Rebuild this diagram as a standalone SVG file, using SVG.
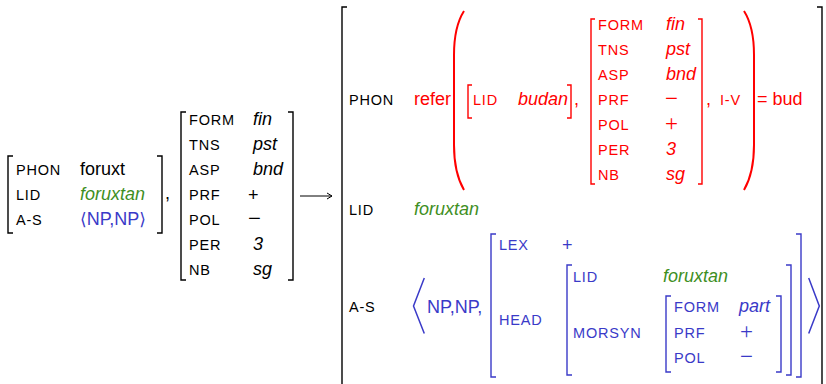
<svg xmlns="http://www.w3.org/2000/svg" width="826" height="384" viewBox="0 0 826 384">
<style>
text{font-family:"Liberation Sans",Arial,sans-serif}
.l{font-size:14.5px;letter-spacing:0.8px}
.v{font-size:18px}
.i{font-style:italic}
.m{font-family:"Liberation Serif","Times New Roman",serif;font-size:23px}
.k{fill:#000}
.r{fill:#ff0000}
.g{fill:#3f8f1f}
.b{fill:#3a3ac8}
.br{fill:none;stroke-width:1.4}
.bk{stroke:#000}
.rs{stroke:#ff0000}
.bs{stroke:#3a3ac8}
</style>
<defs>
<marker id="ah" markerWidth="10" markerHeight="10" refX="8" refY="5" orient="auto" markerUnits="userSpaceOnUse">
<path d="M3,2 L8,5 L3,8" fill="none" stroke="#000" stroke-width="1"/>
</marker>
</defs>
<rect width="826" height="384" fill="#fff"/>

<g id="m1">
<path class="br bk" d="M13,156 H8 V233 H13 M157,156 H162 V233 H157"/>
<text class="l k" x="16" y="175">PHON</text>
<text class="v k" x="80" y="175">foruxt</text>
<text class="l k" x="16" y="200">LID</text>
<text class="v i g" x="80" y="200">foruxtan</text>
<text class="l k" x="16" y="225">A-S</text>
<text class="v b" x="80" y="225"><tspan font-family="DejaVu Sans" font-size="17">⟨</tspan>NP,NP<tspan font-family="DejaVu Sans" font-size="17">⟩</tspan></text>
<text class="v k" x="165" y="199">,</text>
</g>

<g id="m2">
<path class="br bk" d="M186,112 H181 V280 H186 M288,112 H293 V280 H288"/>
<text class="l k" x="189" y="125">FORM</text><text class="v i k" x="253" y="125">fin</text>
<text class="l k" x="189" y="150">TNS</text><text class="v i k" x="253" y="150">pst</text>
<text class="l k" x="189" y="175">ASP</text><text class="v i k" x="253" y="175">bnd</text>
<text class="l k" x="189" y="200">PRF</text><text class="v k" x="248" y="201">+</text>
<text class="l k" x="189" y="225">POL</text><text class="m k" x="248" y="226">−</text>
<text class="l k" x="189" y="250">PER</text><text class="v i k" x="253" y="250">3</text>
<text class="l k" x="189" y="275">NB</text><text class="v i k" x="253" y="275">sg</text>
</g>

<g id="connectors">
<line x1="300" y1="196" x2="332" y2="196" stroke="#000" stroke-width="1" marker-end="url(#ah)"/>
</g>

<g id="big">
<path class="br bk" d="M347,7 H342 V384 M817,7 H822 V384"/>
<text class="l k" x="349" y="105">PHON</text>
<text class="l k" x="349" y="215">LID</text>
<text class="v i g" x="414" y="215">foruxtan</text>
<text class="l k" x="349" y="312">A-S</text>
</g>

<g id="phon">
<text class="v r" x="414" y="105">refer</text>
<path fill="none" stroke="#ff0000" stroke-width="2" d="M464,11 C457,22 454,36 454,55 V145 C454,164 457,178 464,190"/>
<path fill="none" stroke="#ff0000" stroke-width="2" d="M744,11 C751,22 754,36 754,55 V145 C754,164 751,178 744,190"/>
<path class="br rs" d="M472,85 H468 V118 H472 M567,85 H571 V118 H567"/>
<text class="l r" x="473" y="105">LID</text>
<text class="v i r" x="518" y="105">budan</text>
<text class="v r" x="574" y="105">,</text>
<path class="br rs" d="M595,19 H591 V184 H595 M698,19 H702 V184 H698"/>
<text class="l r" x="598" y="30">FORM</text><text class="v i r" x="666" y="30">fin</text>
<text class="l r" x="598" y="55">TNS</text><text class="v i r" x="666" y="55">pst</text>
<text class="l r" x="598" y="80">ASP</text><text class="v i r" x="666" y="80">bnd</text>
<text class="l r" x="598" y="105">PRF</text><text class="m r" x="665" y="106">−</text>
<text class="l r" x="598" y="130">POL</text><text class="m r" x="665" y="131">+</text>
<text class="l r" x="598" y="155">PER</text><text class="v i r" x="666" y="155">3</text>
<text class="l r" x="598" y="180">NB</text><text class="v i r" x="666" y="180">sg</text>
<text class="v r" x="706" y="105">,</text>
<text class="l r" x="720" y="105">I-V</text>
<text class="v r" x="757" y="105">= bud</text>
</g>

<g id="as">
<polyline fill="none" stroke="#3a3ac8" stroke-width="1.5" points="424.3,278 413.5,306 424.3,333.5"/>
<text class="v b" x="427" y="313">NP,NP,</text>
<path class="br bs" d="M496,234 H491 V377 H496 M796,234 H801 V377 H796"/>
<text class="l b" x="499" y="250">LEX</text>
<text class="v b" x="562" y="251">+</text>
<text class="l b" x="499" y="325">HEAD</text>
<path class="br bs" d="M572,265 H567 V375 H572 M786,265 H791 V375 H786"/>
<text class="l b" x="573" y="282">LID</text>
<text class="v i g" x="663" y="282">foruxtan</text>
<text class="l b" x="573" y="338">MORSYN</text>
<path class="br bs" d="M671,296 H666 V372 H671 M776,296 H781 V372 H776"/>
<text class="l b" x="674" y="312">FORM</text><text class="v i b" x="739" y="312">part</text>
<text class="l b" x="674" y="338">PRF</text><text class="m b" x="740" y="339">+</text>
<text class="l b" x="674" y="363">POL</text><text class="m b" x="740" y="364">−</text>
<polyline fill="none" stroke="#3a3ac8" stroke-width="1.5" points="808.7,278 819.3,306 808.7,333.5"/>
</g>
</svg>
